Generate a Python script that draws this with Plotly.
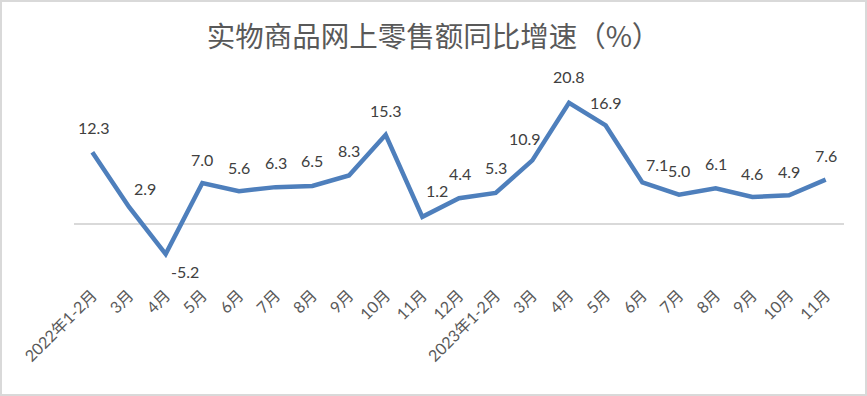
import plotly.graph_objects as go

categories = ["2022年1-2月", "3月", "4月", "5月", "6月", "7月", "8月", "9月", "10月", "11月", "12月",
              "2023年1-2月", "3月", "4月", "5月", "6月", "7月", "8月", "9月", "10月", "11月"]
values = [12.3, 2.9, -5.2, 7.0, 5.6, 6.3, 6.5, 8.3, 15.3, 1.2, 4.4,
          5.3, 10.9, 20.8, 16.9, 7.1, 5.0, 6.1, 4.6, 4.9, 7.6]
title_text = "实物商品网上零售额同比增速（%）"

# label offsets (pixels) for data labels, style only
label_dx = [2, 16, 19, 0, 0, 0, 0, 0, 0, 15, 1, 0, -7, 0, 0, 15, 0, 0, 0, 0, 0]
label_dy = [25, 18, -17, 24, 24, 25, 25, 25, 24, 26, 25, 25, 22, 26, 23, 18, 24, 25, 24, 24, 24]

xs = list(range(len(values)))

fig = go.Figure()
fig.add_trace(go.Scatter(
    x=xs, y=values, mode="lines",
    line=dict(color="#4E7FBC", width=4.5),
    hoverinfo="skip", showlegend=False,
))

for i, v in enumerate(values):
    fig.add_annotation(
        x=xs[i], y=v, text=f"{v:.1f}", showarrow=False,
        xshift=label_dx[i], yshift=label_dy[i],
        xanchor="center", yanchor="middle",
        font=dict(family="Lato, 'Noto Sans CJK SC'", size=16, color="#404040"),
    )

W, H = 867, 396
ml, mr, mt, mb = 74, 23, 78, 114
pw, ph = W - ml - mr, H - mt - mb

fig.update_layout(
    width=W, height=H,
    margin=dict(l=ml, r=mr, t=mt, b=mb, pad=0, autoexpand=False),
    paper_bgcolor="white", plot_bgcolor="white",
    title=dict(
        text=title_text, x=0.5, xanchor="center",
        y=1 - 37 / H, yanchor="middle", yref="container",
        font=dict(family="'Noto Sans CJK SC'", size=28.5, color="#595959"),
    ),
    xaxis=dict(
        tickmode="array", tickvals=xs, ticktext=categories,
        range=[-0.5, len(values) - 0.5], automargin=False,
        tickangle=-45, showgrid=False, zeroline=False, showline=False,
        ticks="", tickfont=dict(family="Lato, 'Noto Sans CJK SC'", size=16, color="#595959"),
        fixedrange=True,
    ),
    yaxis=dict(
        range=[-10, 25.05], showticklabels=False, showgrid=False, automargin=False,
        zeroline=True, zerolinecolor="#D9D9D9", zerolinewidth=1.5,
        showline=False, fixedrange=True,
    ),
    shapes=[dict(
        type="rect", xref="paper", yref="paper",
        x0=(1 - ml) / pw, x1=(W - 1 - ml) / pw,
        y0=-(mb - 1) / ph, y1=1 + (mt - 1) / ph,
        line=dict(color="#D9D9D9", width=2), fillcolor="rgba(0,0,0,0)", layer="below",
    )],
)

fig.write_html("out.html", config={"displayModeBar": False},
               post_script="document.body.style.margin='0';document.body.style.overflow='hidden';")
